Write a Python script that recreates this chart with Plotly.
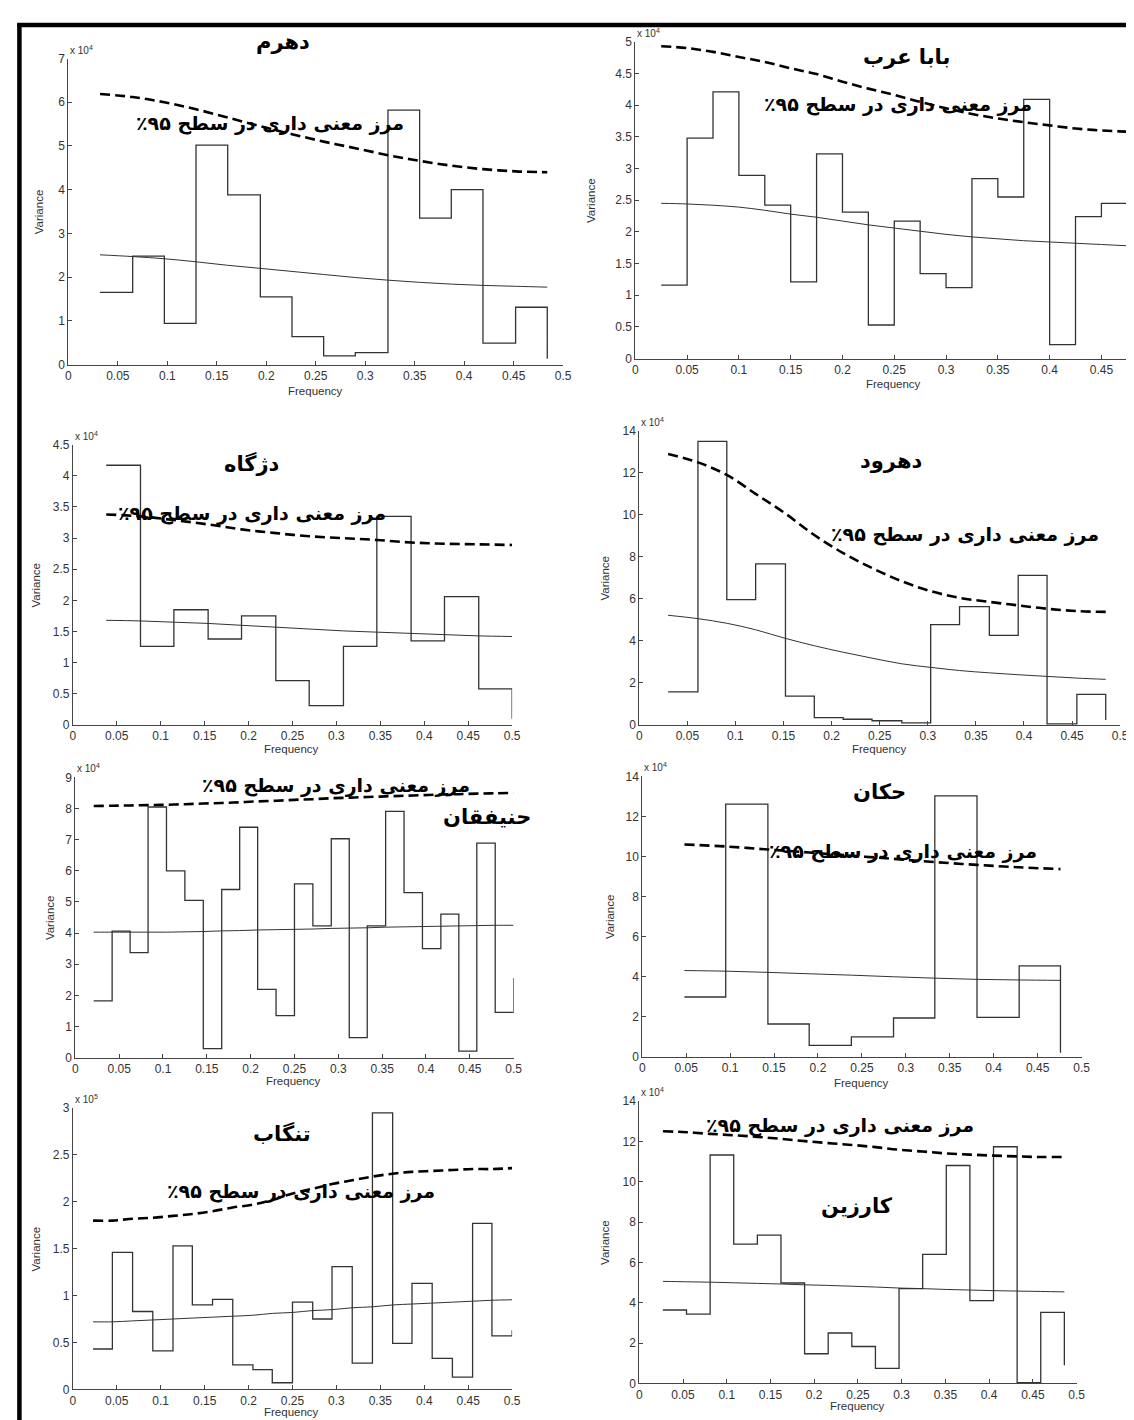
import plotly.graph_objects as go

W, H = 1134, 1420

# ---------------- data (values in units of the axis multiplier) ----------------
names = ["دهرم", "بابا عرب", "دژگاه", "دهرود", "حنیفقان", "حکان", "تنگاب", "کارزین"]
bound_label = "مرز معنی داری در سطح ۹۵٪"
multipliers = ["4", "4", "4", "4", "4", "4", "5", "4"]

f1 = [0.032, 0.065, 0.097, 0.129, 0.161, 0.194, 0.226, 0.258, 0.290, 0.323, 0.355, 0.387, 0.419, 0.452, 0.484]
v1 = [1.65, 2.48, 0.94, 5.02, 3.88, 1.55, 0.64, 0.20, 0.27, 5.82, 3.35, 4.00, 0.49, 1.31, 0.13]
r1 = [2.51, 2.47, 2.42, 2.35, 2.27, 2.20, 2.13, 2.06, 1.99, 1.93, 1.88, 1.84, 1.81, 1.79, 1.77]
b1 = [6.19, 6.12, 6.00, 5.84, 5.65, 5.45, 5.27, 5.10, 4.95, 4.79, 4.66, 4.55, 4.47, 4.42, 4.40]

f2 = [0.025, 0.05, 0.075, 0.1, 0.125, 0.15, 0.175, 0.2, 0.225, 0.25, 0.275, 0.3, 0.325, 0.35, 0.375, 0.4, 0.425, 0.45, 0.475, 0.5]
v2 = [1.16, 3.48, 4.21, 2.89, 2.42, 1.21, 3.23, 2.31, 0.53, 2.17, 1.34, 1.12, 2.84, 2.55, 4.09, 0.22, 2.24, 2.45, 0.94, 0.90]
r2 = [2.45, 2.44, 2.42, 2.39, 2.34, 2.28, 2.23, 2.17, 2.11, 2.06, 2.01, 1.96, 1.92, 1.89, 1.86, 1.84, 1.82, 1.80, 1.78, 1.77]
b2 = [4.93, 4.90, 4.84, 4.76, 4.68, 4.58, 4.49, 4.37, 4.26, 4.16, 4.05, 3.95, 3.86, 3.79, 3.73, 3.68, 3.63, 3.60, 3.58, 3.56]

f3 = [0.038, 0.077, 0.115, 0.154, 0.192, 0.231, 0.269, 0.308, 0.346, 0.385, 0.423, 0.462, 0.500]
v3 = [4.17, 1.26, 1.85, 1.38, 1.75, 0.71, 0.31, 1.26, 3.35, 1.35, 2.06, 0.58, 0.10]
r3 = [1.68, 1.67, 1.65, 1.63, 1.60, 1.57, 1.54, 1.51, 1.49, 1.47, 1.45, 1.43, 1.42]
b3 = [3.38, 3.35, 3.29, 3.22, 3.14, 3.08, 3.03, 3.00, 2.97, 2.93, 2.91, 2.90, 2.89]

f4 = [0.030, 0.061, 0.091, 0.121, 0.152, 0.182, 0.212, 0.242, 0.273, 0.303, 0.333, 0.364, 0.394, 0.424, 0.455, 0.485]
v4 = [1.57, 13.5, 5.97, 7.67, 1.37, 0.35, 0.27, 0.20, 0.10, 4.78, 5.63, 4.26, 7.12, 0.05, 1.45, 0.24]
r4 = [5.22, 5.06, 4.84, 4.53, 4.12, 3.77, 3.46, 3.18, 2.91, 2.74, 2.59, 2.48, 2.39, 2.31, 2.23, 2.17]
b4 = [12.9, 12.5, 11.9, 11.0, 10.06, 9.04, 8.18, 7.47, 6.84, 6.37, 6.05, 5.86, 5.69, 5.53, 5.42, 5.38]

f5 = [0.021, 0.042, 0.0625, 0.083, 0.104, 0.125, 0.146, 0.167, 0.1875, 0.208, 0.229, 0.25,
      0.271, 0.292, 0.3125, 0.333, 0.354, 0.375, 0.396, 0.417, 0.4375, 0.458, 0.479, 0.5]
v5 = [1.82, 4.06, 3.37, 8.05, 6.00, 5.05, 0.29, 5.40, 7.40, 2.19, 1.35, 5.58,
      4.23, 7.03, 0.64, 4.23, 7.91, 5.30, 3.50, 4.61, 0.21, 6.89, 1.45, 2.56]
r5 = [4.03, 4.03, 4.03, 4.03, 4.03, 4.04, 4.05, 4.07, 4.08, 4.10, 4.11, 4.12,
      4.13, 4.15, 4.16, 4.17, 4.19, 4.20, 4.21, 4.22, 4.23, 4.24, 4.25, 4.25]
b5 = [8.08, 8.09, 8.10, 8.11, 8.12, 8.14, 8.16, 8.18, 8.20, 8.23, 8.25, 8.28,
      8.30, 8.33, 8.35, 8.37, 8.39, 8.41, 8.43, 8.45, 8.46, 8.48, 8.49, 8.50]

f6 = [0.048, 0.095, 0.143, 0.190, 0.238, 0.286, 0.333, 0.381, 0.429, 0.476]
v6 = [2.98, 12.62, 1.63, 0.56, 0.99, 1.93, 13.03, 1.96, 4.53, 0.20]
r6 = [4.30, 4.27, 4.21, 4.14, 4.07, 3.99, 3.92, 3.86, 3.83, 3.81]
b6 = [10.60, 10.50, 10.35, 10.20, 10.04, 9.88, 9.72, 9.58, 9.46, 9.37]

f7 = [0.023, 0.045, 0.068, 0.091, 0.114, 0.136, 0.159, 0.182, 0.205, 0.227, 0.25,
      0.273, 0.295, 0.318, 0.341, 0.364, 0.386, 0.409, 0.432, 0.455, 0.477, 0.5]
v7 = [0.43, 1.46, 0.83, 0.41, 1.53, 0.90, 0.96, 0.26, 0.21, 0.07, 0.93,
      0.75, 1.31, 0.28, 2.95, 0.49, 1.13, 0.33, 0.13, 1.77, 0.57, 0.63]
r7 = [0.72, 0.72, 0.73, 0.74, 0.75, 0.76, 0.77, 0.78, 0.79, 0.81, 0.82,
      0.84, 0.85, 0.87, 0.88, 0.90, 0.91, 0.92, 0.93, 0.94, 0.95, 0.955]
b7 = [1.80, 1.80, 1.82, 1.83, 1.85, 1.87, 1.90, 1.94, 1.97, 2.02, 2.09,
      2.14, 2.19, 2.23, 2.27, 2.30, 2.32, 2.33, 2.34, 2.35, 2.35, 2.36]

f8 = [0.027, 0.054, 0.081, 0.108, 0.135, 0.162, 0.189, 0.216, 0.243, 0.270, 0.297, 0.324, 0.351, 0.378, 0.405, 0.432, 0.459, 0.486]
v8 = [3.64, 3.44, 11.33, 6.91, 7.35, 4.98, 1.47, 2.50, 1.83, 0.74, 4.70, 6.40, 10.81, 4.11, 11.74, 0.03, 3.52, 0.90]
r8 = [5.06, 5.04, 5.02, 4.99, 4.96, 4.93, 4.89, 4.86, 4.82, 4.78, 4.73, 4.70, 4.66, 4.63, 4.60, 4.58, 4.56, 4.54]
b8 = [12.51, 12.46, 12.38, 12.31, 12.23, 12.13, 12.02, 11.92, 11.83, 11.72, 11.59, 11.50, 11.41, 11.35, 11.30, 11.26, 11.23, 11.23]

freqs = [f1, f2, f3, f4, f5, f6, f7, f8]
vals = [v1, v2, v3, v4, v5, v6, v7, v8]
reds = [r1, r2, r3, r4, r5, r6, r7, r8]
bounds = [b1, b2, b3, b4, b5, b6, b7, b8]

y_max = [7, 5, 4.5, 14, 9, 14, 3, 14]
y_dtick = [1, 0.5, 0.5, 2, 1, 2, 0.5, 2]
x_max = [0.5, 0.4805, 0.5, 0.5, 0.5, 0.5, 0.5, 0.5]

# ---------------- layout geometry (pixels) ----------------
# (left, right, top, bottom) of each plot area
boxes = [(58, 558, 44, 353), (631, 1134, 27, 347),
         (62.5, 506.5, 434, 717), (635, 1121, 420, 717),
         (65, 508, 770, 1053), (638, 1082, 769, 1052),
         (62.5, 506.5, 1104, 1388), (635, 1077, 1097, 1382)]
title_pos = [(275, 27), (905, 42), (244, 453), (889, 450), (481, 810), (878, 785), (274, 1130), (855, 1203)]
bound_pos = [(262, 110), (896, 90), (244, 503), (964, 525), (328, 778), (902, 845), (293, 1188), (838, 1122)]
freq_label_pos = [(308, 380), (892, 373), (284, 741), (878, 741), (286, 1077), (860, 1079), (284, 1411), (856, 1405)]
var_label_x = [28, 586, 25, 600, 39, 605, 25, 601]

RLM = "\u200f"


def px(x):
    return x / W


def py(y):
    return 1 - y / H


fig = go.Figure()
annotations = []
shapes = []
sans = "Liberation Sans, Arial, sans-serif"
tick_font = dict(family=sans, size=12, color="#333333")

for i in range(8):
    n = "" if i == 0 else str(i + 1)
    xa, ya = "x" + n, "y" + n
    f, v, r, b = freqs[i], vals[i], reds[i], bounds[i]
    fig.add_trace(go.Scatter(x=f, y=v, mode="lines", line=dict(shape="hv", color="#333333", width=1.3),
                             xaxis=xa, yaxis=ya, showlegend=False, hoverinfo="skip"))
    fig.add_trace(go.Scatter(x=f, y=r, mode="lines", line=dict(shape="spline", color="#333333", width=1.0),
                             xaxis=xa, yaxis=ya, showlegend=False, hoverinfo="skip"))
    fig.add_trace(go.Scatter(x=f, y=b, mode="lines", line=dict(shape="spline", color="black", width=2.6, dash="10px,5px"),
                             xaxis=xa, yaxis=ya, showlegend=False, hoverinfo="skip"))
    l, rr, t, bt = boxes[i]
    xkey = "xaxis" + n
    ykey = "yaxis" + n
    fig.layout[xkey] = dict(domain=[px(l), min(px(rr), 1.0)], range=[0, x_max[i]], anchor=ya,
                            showline=True, linecolor="#444444", linewidth=1, ticks="inside", ticklen=4,
                            tickcolor="#444444", dtick=0.05, tick0=0, showgrid=False, zeroline=False,
                            tickfont=tick_font, fixedrange=True)
    fig.layout[ykey] = dict(domain=[py(bt), py(t)], range=[0, y_max[i]], anchor=xa,
                            showline=True, linecolor="#444444", linewidth=1, ticks="inside", ticklen=4,
                            tickcolor="#444444", dtick=y_dtick[i], tick0=0, showgrid=False, zeroline=False,
                            tickfont=tick_font, fixedrange=True)
    # multiplier label
    annotations.append(dict(x=px(l), y=py(t - 1), xref="paper", yref="paper", xanchor="left", yanchor="bottom",
                            text="x 10<sup>" + multipliers[i] + "</sup>", showarrow=False,
                            font=dict(family=sans, size=10, color="#333333")))
    # axis titles
    annotations.append(dict(x=px(freq_label_pos[i][0]), y=py(freq_label_pos[i][1]), xref="paper", yref="paper",
                            xanchor="center", yanchor="middle", text="Frequency", showarrow=False,
                            font=dict(family=sans, size=11.5, color="#333333")))
    annotations.append(dict(x=px(var_label_x[i]), y=py((t + bt) / 2), xref="paper", yref="paper", xanchor="center",
                            yanchor="middle", text="Variance", textangle=-90, showarrow=False,
                            font=dict(family=sans, size=11.5, color="#333333")))
    # Persian texts
    annotations.append(dict(x=px(title_pos[i][0]), y=py(title_pos[i][1]), xref="paper", yref="paper",
                            xanchor="center", yanchor="middle", text="<b>" + RLM + names[i] + RLM + "</b>",
                            showarrow=False, font=dict(family="DejaVu Sans, sans-serif", size=21, color="black")))
    annotations.append(dict(x=px(bound_pos[i][0]), y=py(bound_pos[i][1]), xref="paper", yref="paper",
                            xanchor="center", yanchor="middle", text="<b>" + RLM + bound_label + RLM + "</b>",
                            showarrow=False, font=dict(family="DejaVu Sans, sans-serif", size=19, color="black")))

# frame lines (left and top)
shapes.append(dict(type="line", xref="paper", yref="paper", x0=px(8.5), x1=px(8.5), y0=py(8), y1=0,
                   line=dict(color="black", width=4.5)))
shapes.append(dict(type="line", xref="paper", yref="paper", x0=px(6.5), x1=1, y0=py(10), y1=py(10),
                   line=dict(color="black", width=4.5)))

fig.update_layout(width=W, height=H, margin=dict(l=0, r=0, t=0, b=0), paper_bgcolor="white",
                  plot_bgcolor="white", annotations=annotations, shapes=shapes, showlegend=False)

fig.write_html("out.html")
